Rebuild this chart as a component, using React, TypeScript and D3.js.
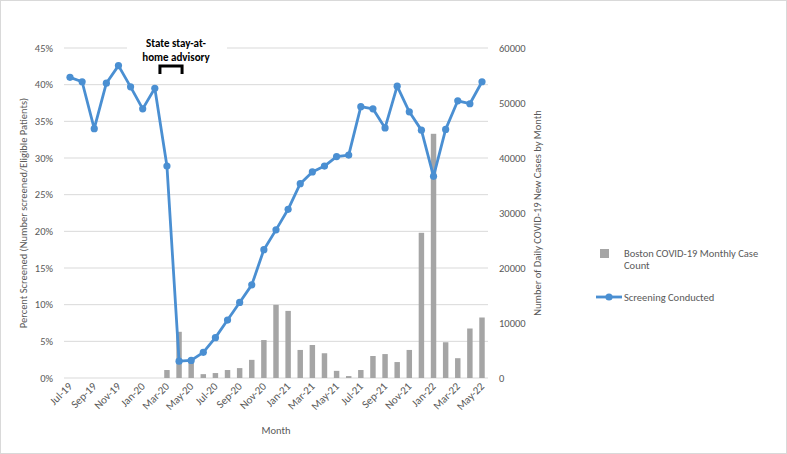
import React, { useEffect, useRef } from 'react';
import * as d3 from 'd3';

const months = [
  'Jul-19','Aug-19','Sep-19','Oct-19','Nov-19','Dec-19','Jan-20','Feb-20','Mar-20','Apr-20','May-20','Jun-20',
  'Jul-20','Aug-20','Sep-20','Oct-20','Nov-20','Dec-20','Jan-21','Feb-21','Mar-21','Apr-21','May-21','Jun-21',
  'Jul-21','Aug-21','Sep-21','Oct-21','Nov-21','Dec-21','Jan-22','Feb-22','Mar-22','Apr-22','May-22'
];
// percent screened
const screening = [
  41.0, 40.4, 34.0, 40.2, 42.6, 39.7, 36.7, 39.5, 28.9, 2.3, 2.4, 3.5,
  5.5, 7.9, 10.3, 12.7, 17.5, 20.2, 23.0, 26.5, 28.1, 28.9, 30.2, 30.4,
  37.0, 36.7, 34.1, 39.8, 36.3, 33.8, 27.5, 33.9, 37.8, 37.4, 40.4
];
// Boston monthly case counts
const cases = [
  0, 0, 0, 0, 0, 0, 0, 0, 1450, 8400, 3000, 700,
  900, 1450, 1800, 3300, 6900, 13300, 12200, 5100, 6000, 4500, 1300, 350,
  1450, 4000, 4350, 2900, 5100, 26400, 44400, 6500, 3600, 9000, 11000
];
const leftTicks = [0, 5, 10, 15, 20, 25, 30, 35, 40, 45];
const rightTicks = [0, 10000, 20000, 30000, 40000, 50000, 60000];
const xTickLabels = months.filter((d, i) => i % 2 === 0);

export default function App() {
  const ref = useRef<SVGSVGElement>(null);
  const width = 787;
  const height = 454;
  const m = { top: 48, bottom: 378, left: 64, right: 488 };
  const font = "Calibri, Carlito, 'Open Sans', sans-serif";
  const gray = '#595959';
  const blue = '#4a8fd2';

  useEffect(() => {
    const svg = d3.select(ref.current);
    svg.selectAll('*').remove();

    svg.append('rect')
      .attr('x', 0.5).attr('y', 0.5)
      .attr('width', width - 1).attr('height', height - 1)
      .attr('fill', '#fff').attr('stroke', '#d9d9d9');

    const x = d3.scaleBand().domain(months).range([m.left, m.right]).paddingInner(0.55).paddingOuter(0.27);
    const cx = (d: string) => (x(d) as number) + x.bandwidth() / 2;
    const yL = d3.scaleLinear().domain([0, 45]).range([m.bottom, m.top]);
    const yR = d3.scaleLinear().domain([0, 60000]).range([m.bottom, m.top]);

    // gridlines
    svg.append('g').selectAll('line').data(leftTicks).join('line')
      .attr('x1', m.left).attr('x2', m.right)
      .attr('y1', d => yL(d)).attr('y2', d => yL(d))
      .attr('stroke', '#d9d9d9').attr('stroke-width', 1);

    // left axis labels
    svg.append('g').selectAll('text').data(leftTicks).join('text')
      .attr('x', 53).attr('y', d => yL(d)).attr('dy', '0.35em')
      .attr('text-anchor', 'end').attr('font-family', font).attr('font-size', 10.5).attr('fill', gray)
      .text(d => `${d}%`);

    // right axis labels
    svg.append('g').selectAll('text').data(rightTicks).join('text')
      .attr('x', 499).attr('y', d => yR(d)).attr('dy', '0.35em')
      .attr('text-anchor', 'start').attr('font-family', font).attr('font-size', 10.5).attr('fill', gray)
      .text(d => `${d}`);

    // x labels
    svg.append('g').selectAll('text').data(xTickLabels).join('text')
      .attr('transform', d => `translate(${cx(d) + 3},${m.bottom + 9}) rotate(-45)`)
      .attr('text-anchor', 'end').attr('font-family', font).attr('font-size', 11).attr('fill', gray)
      .text(d => d);

    // axis titles
    svg.append('text')
      .attr('transform', `translate(27,${(m.top + m.bottom) / 2}) rotate(-90)`)
      .attr('text-anchor', 'middle').attr('font-family', font).attr('font-size', 10.5).attr('fill', gray)
      .text('Percent Screened (Number screened/Eligible Patients)');
    svg.append('text')
      .attr('transform', `translate(541,${(m.top + m.bottom) / 2}) rotate(-90)`)
      .attr('text-anchor', 'middle').attr('font-family', font).attr('font-size', 10.5).attr('fill', gray)
      .text('Number of Daily COVID-19 New Cases by Month');
    svg.append('text')
      .attr('x', 276).attr('y', 434)
      .attr('text-anchor', 'middle').attr('font-family', font).attr('font-size', 10.5).attr('fill', gray)
      .text('Month');

    // bars
    svg.append('g').selectAll('rect').data(months).join('rect')
      .attr('x', d => x(d) as number)
      .attr('width', x.bandwidth())
      .attr('y', (d, i) => yR(cases[i]))
      .attr('height', (d, i) => m.bottom - yR(cases[i]))
      .attr('fill', '#a5a5a5');

    // line
    svg.append('path')
      .datum(months)
      .attr('fill', 'none')
      .attr('stroke', blue)
      .attr('stroke-width', 2.8)
      .attr('stroke-linejoin', 'round')
      .attr('d', d3.line<string>().x(d => cx(d)).y((d, i) => yL(screening[i])));
    svg.append('g').selectAll('circle').data(months).join('circle')
      .attr('cx', d => cx(d)).attr('cy', (d, i) => yL(screening[i]))
      .attr('r', 3.6).attr('fill', blue);

    // annotation
    const ax = (cx('Mar-20') + cx('Apr-20')) / 2;
    svg.append('rect')
      .attr('x', ax - 46).attr('y', 36).attr('width', 100).attr('height', 28)
      .attr('fill', '#fff');
    const note = svg.append('text')
      .attr('font-family', font).attr('font-size', 11).attr('font-weight', 'bold')
      .attr('fill', '#000').attr('text-anchor', 'middle');
    note.append('tspan').attr('x', ax + 3).attr('y', 47).text('State stay-at-');
    note.append('tspan').attr('x', ax + 3).attr('y', 61).text('home advisory');
    svg.append('path')
      .attr('d', `M${cx('Mar-20') - 7},74 V66 H${cx('Apr-20') + 3} V74`)
      .attr('fill', 'none').attr('stroke', '#000').attr('stroke-width', 3);

    // legend
    svg.append('rect')
      .attr('x', 600).attr('y', 249).attr('width', 9).attr('height', 9)
      .attr('fill', '#a5a5a5');
    const lg = svg.append('text')
      .attr('font-family', font).attr('font-size', 10.5).attr('fill', gray);
    lg.append('tspan').attr('x', 624).attr('y', 257).text('Boston COVID-19 Monthly Case');
    lg.append('tspan').attr('x', 624).attr('y', 269).text('Count');
    svg.append('line')
      .attr('x1', 596).attr('x2', 622).attr('y1', 297).attr('y2', 297)
      .attr('stroke', blue).attr('stroke-width', 2.8);
    svg.append('circle').attr('cx', 609).attr('cy', 297).attr('r', 3.6).attr('fill', blue);
    svg.append('text')
      .attr('x', 624).attr('y', 297).attr('dy', '0.35em')
      .attr('font-family', font).attr('font-size', 10.5).attr('fill', gray)
      .text('Screening Conducted');
  }, []);

  return (
    <div style={{ position: 'fixed', left: 0, top: 0, background: '#fff' }}>
      <svg ref={ref} width={width} height={height} style={{ display: 'block' }} />
    </div>
  );
}
